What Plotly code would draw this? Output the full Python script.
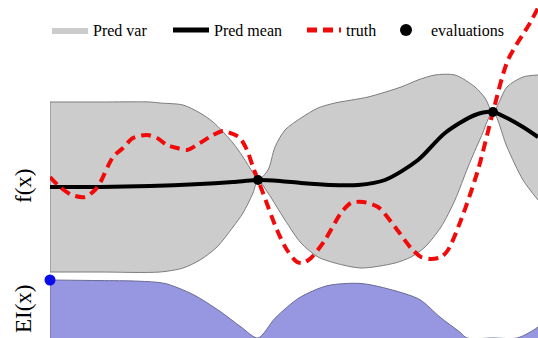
import plotly.graph_objects as go

# ---------------- data ----------------
# x in arbitrary units (0 .. 48.8 visible), f in arbitrary units
truth_x = [0, 1.0, 2.2, 3.5, 4.5, 5.0, 6.3, 7.3, 8.3, 9.7, 10.7, 11.7, 12.7, 13.7, 15.0,
           16.3, 17.3, 18.3, 19.0, 19.7, 20.3, 20.8, 21.3, 22.7, 23.7, 24.7, 25.3, 26.1,
           27.5, 29.1, 30.1, 31.3, 32.8, 34.5, 36.1, 37.1, 38.1, 39.1, 39.8, 41.1, 42.8,
           44.3, 45.8, 48.0, 48.8]
truth_f = [1.0, 0.0, -0.8, -1.0, -0.3, 0.4, 3.0, 3.9, 4.9, 5.2, 4.9, 4.2, 3.9, 3.7, 4.4,
           5.2, 5.6, 5.3, 4.9, 3.7, 2.0, 0.7, -0.6, -4.3, -6.3, -7.5, -7.6, -7.1,
           -5.3, -2.6, -1.6, -1.5, -2.0, -4.0, -6.1, -7.0, -7.2, -7.0, -6.3, -3.3, 1.7,
           7.5, 12.7, 16.4, 17.9]

mean_x = [0, 5, 10, 15, 18.3, 20.8, 23, 25.1, 28, 30.8, 33.5, 36.8, 39.5, 42.5, 44.3,
          45.7, 47.3, 48.8]
mean_f = [0, 0, 0.1, 0.3, 0.5, 0.7, 0.6, 0.4, 0.2, 0.2, 0.7, 2.7, 5.4, 7.2, 7.5,
          6.9, 6.0, 5.0]

upper_x = [0, 5, 10, 11, 13.3, 15, 16.3, 18.3, 19.3, 20.3, 20.8, 21.8, 22.5, 23.5, 25.1,
           26.8, 28.5, 31.8, 35.1, 36.8, 38.5, 40.5, 42.5, 43.5, 44.3, 45.7, 47.3, 48.8]
upper_f = [8.5, 8.5, 8.5, 8.4, 8.2, 7.4, 6.5, 4.4, 3.0, 1.4, 0.7, 1.7, 4.0, 5.7, 6.9,
           7.9, 8.4, 9.0, 10.0, 10.7, 11.2, 11.2, 10.0, 8.9, 7.5, 10.0, 11.0, 11.2]

lower_x = [0, 5, 11, 13.3, 15, 16.7, 18.3, 19.3, 20.3, 20.8, 21.8, 23.5, 25.1, 26.8,
           28.5, 31.1, 34.5, 36.1, 37.5, 39.1, 40.5, 41.8, 43.1, 44.3, 45.7, 47.3, 48.8]
lower_f = [-8.5, -8.5, -8.5, -8.1, -7.3, -6.0, -4.0, -2.6, -0.6, 0.7, -0.6, -3.3, -5.6, -7.0,
           -7.6, -8.1, -7.6, -7.0, -6.0, -4.0, -1.3, 2.0, 5.0, 7.5, 4.0, 0.7, -1.3]

eval_x = [20.8, 44.3]
eval_f = [0.7, 7.5]

ei_x = [0, 5, 8.8, 11.5, 14.3, 17, 19.1, 20.8, 22.5, 24.9, 27.7, 31.1, 34.6, 37, 39,
        41, 41.7, 44.3, 46.7, 48.3, 48.8]
ei_v = [1.0, 0.99, 0.98, 0.94, 0.75, 0.46, 0.19, 0.0, 0.34, 0.69, 0.90, 0.94, 0.81, 0.66, 0.36,
        0.10, 0.0, 0.0, 0.0, 0.13, 0.19]

next_x = [0]
next_ei = [1.0]

# ---------------- styling ----------------
SERIF = "Liberation Serif"
GREY_FILL = "rgb(204,204,204)"
GREY_LINE = "rgb(125,125,125)"
EI_FILL = "rgb(151,151,225)"
EI_LINE = "rgb(105,105,150)"
SPL = dict(shape="spline", smoothing=0.8)

fig = go.Figure()

# band: lower edge, then upper edge filled to it
fig.add_trace(go.Scatter(x=lower_x, y=lower_f, mode="lines", xaxis="x", yaxis="y",
                         line=dict(color=GREY_LINE, width=0, **SPL),
                         showlegend=False, hoverinfo="skip"))
fig.add_trace(go.Scatter(x=upper_x, y=upper_f, mode="lines", xaxis="x", yaxis="y",
                         fill="tonexty", fillcolor=GREY_FILL, name="Pred var",
                         line=dict(color=GREY_FILL, width=0, **SPL),
                         legend="legend"))
# band outlines
fig.add_trace(go.Scatter(x=lower_x, y=lower_f, mode="lines", xaxis="x", yaxis="y",
                         line=dict(color=GREY_LINE, width=1, **SPL),
                         showlegend=False, hoverinfo="skip"))
fig.add_trace(go.Scatter(x=upper_x, y=upper_f, mode="lines", xaxis="x", yaxis="y",
                         line=dict(color=GREY_LINE, width=1, **SPL),
                         showlegend=False, hoverinfo="skip"))
fig.add_trace(go.Scatter(x=[upper_x[0], lower_x[0]], y=[upper_f[0], lower_f[0]], mode="lines",
                         xaxis="x", yaxis="y", line=dict(color=GREY_LINE, width=1),
                         showlegend=False, hoverinfo="skip", cliponaxis=False))

fig.add_trace(go.Scatter(x=mean_x, y=mean_f, mode="lines", xaxis="x", yaxis="y",
                         name="Pred mean", legend="legend2",
                         line=dict(color="black", width=4, **SPL)))

fig.add_trace(go.Scatter(x=truth_x, y=truth_f, mode="lines", xaxis="x", yaxis="y",
                         name="truth", legend="legend3",
                         line=dict(color="rgb(240,10,10)", width=4, dash="10px,6px", **SPL)))

fig.add_trace(go.Scatter(x=eval_x, y=eval_f, mode="markers", xaxis="x", yaxis="y",
                         name="evaluations", legend="legend4",
                         marker=dict(color="black", size=10), cliponaxis=False))

# EI panel
fig.add_trace(go.Scatter(x=ei_x, y=ei_v, mode="lines", xaxis="x", yaxis="y2",
                         fill="tozeroy", fillcolor=EI_FILL,
                         line=dict(color=EI_LINE, width=1, **SPL),
                         showlegend=False, hoverinfo="skip"))
fig.add_trace(go.Scatter(x=[ei_x[0], ei_x[0]], y=[0, ei_v[0]], mode="lines",
                         xaxis="x", yaxis="y2", line=dict(color=EI_LINE, width=1),
                         showlegend=False, hoverinfo="skip", cliponaxis=False))
fig.add_trace(go.Scatter(x=next_x, y=next_ei, mode="markers", xaxis="x", yaxis="y2",
                         marker=dict(color="rgb(10,10,235)", size=11),
                         showlegend=False, cliponaxis=False))

W, H = 538, 338
ML = 50
PW = W - ML


def px_to_paper_x(p):
    return (p - ML) / PW


def leg(xpx, iw=40):
    return dict(x=px_to_paper_x(xpx), xanchor="left", y=1 - 30 / H, yanchor="middle",
                orientation="h", bgcolor="rgba(0,0,0,0)", borderwidth=0,
                font=dict(family=SERIF, size=16, color="black"), itemwidth=iw,
                itemsizing="constant")


hidden = dict(showgrid=False, zeroline=False, showticklabels=False, showline=False,
              ticks="")

split = 62 / H
fig.update_layout(
    width=W, height=H, autosize=False,
    margin=dict(l=ML, r=0, t=0, b=0, autoexpand=False),
    paper_bgcolor="white", plot_bgcolor="rgba(0,0,0,0)",
    font=dict(family=SERIF, color="black"),
    xaxis=dict(range=[0, 48.8], domain=[0, 1], anchor="y2", **hidden),
    yaxis=dict(range=[-8.9, 18.7], domain=[split, 1], anchor="x", **hidden),
    yaxis2=dict(range=[0, 1.069], domain=[0, split], anchor="x", **hidden),
    legend=leg(47, 36),
    legend2=leg(168, 36),
    legend3=leg(302, 34),
    legend4=leg(381),
    annotations=[
        dict(text="f(x)", xref="paper", yref="paper", x=px_to_paper_x(23), y=1 - 186 / H,
             xanchor="center", yanchor="middle", textangle=-90, showarrow=False,
             font=dict(family=SERIF, size=23, color="black")),
        dict(text="EI(x)", xref="paper", yref="paper", x=px_to_paper_x(23), y=1 - 309 / H,
             xanchor="center", yanchor="middle", textangle=-90, showarrow=False,
             font=dict(family=SERIF, size=23, color="black")),
    ],
    showlegend=True,
)

fig.write_html("out.html", config={"displayModeBar": False},
               post_script="document.body.style.margin='0px';")
